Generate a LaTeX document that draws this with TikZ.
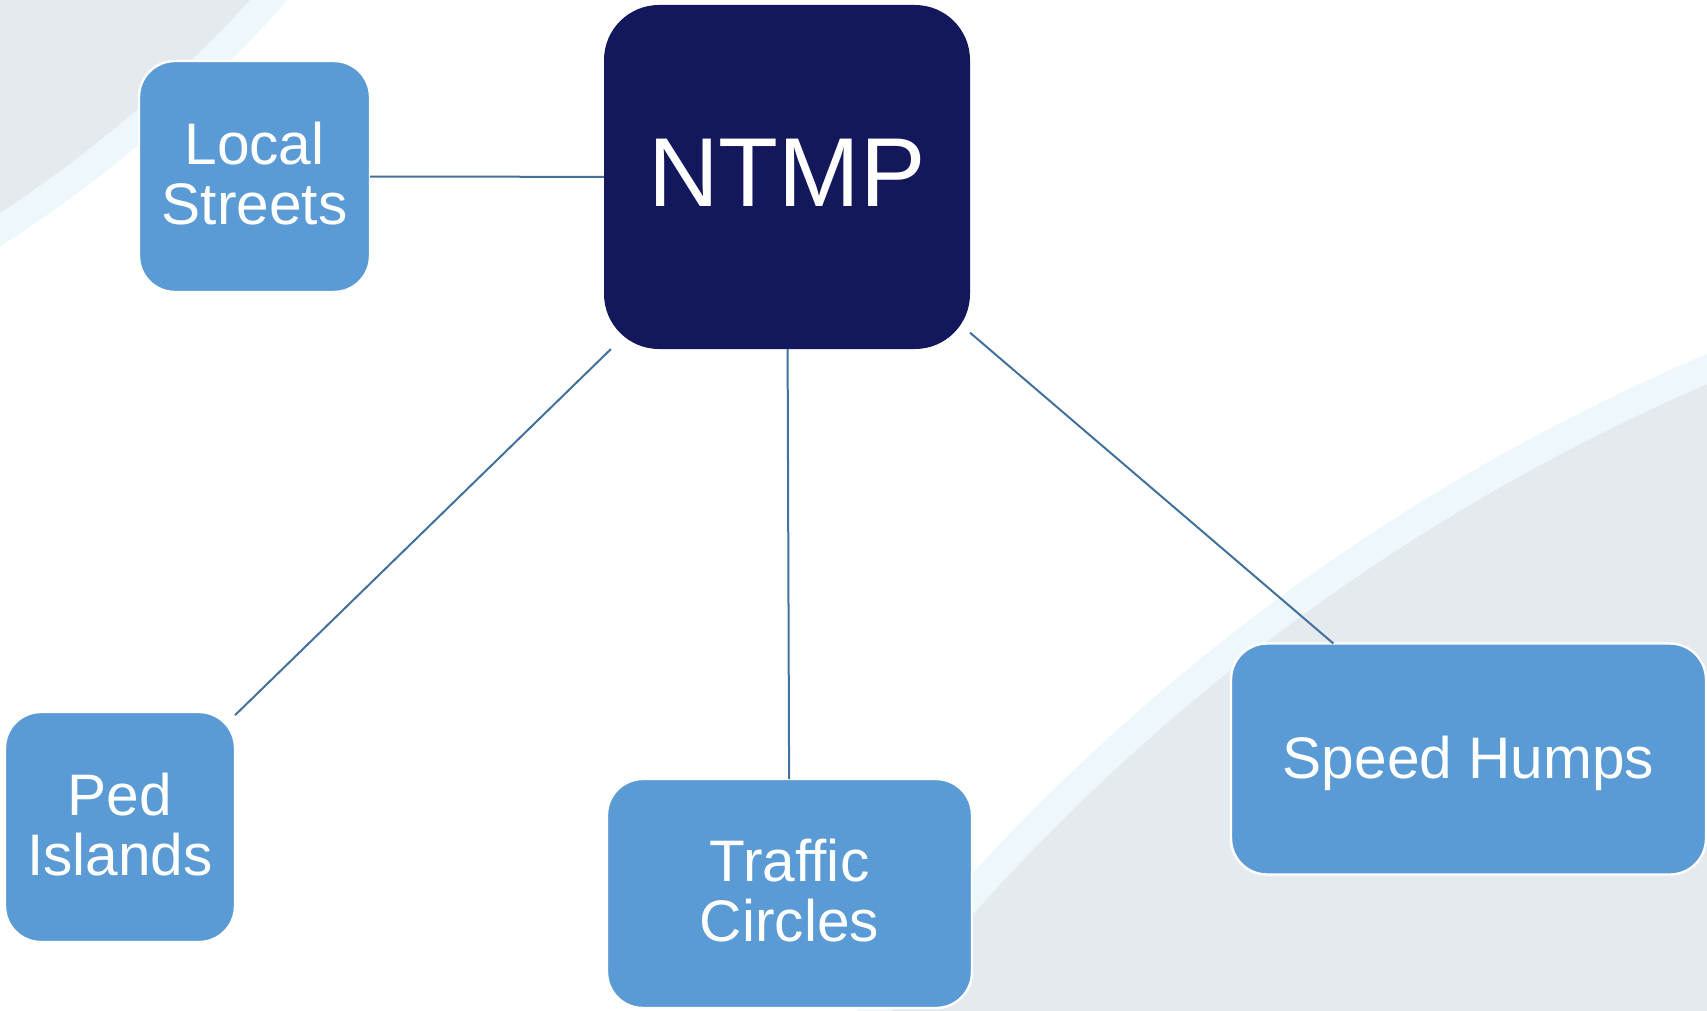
\documentclass[tikz,border=0pt]{standalone}
\usepackage{fontspec}
\setmainfont{Liberation Sans}
\definecolor{navy}{HTML}{13175C}
\definecolor{boxblue}{HTML}{5B9BD5}
\definecolor{linkblue}{HTML}{41719C}
\definecolor{bggray}{HTML}{E4EAEE}
\definecolor{bgband}{HTML}{EEF8FC}
\begin{document}
\begin{tikzpicture}[x=0.5pt, y=-0.5pt,
    hub/.style={rectangle, rounded corners=27.5pt, fill=navy, text=white,
      minimum width=183pt, minimum height=172pt, inner sep=0pt, outer sep=0pt,
      text depth=4pt, font=\fontsize{49}{50}\selectfont},
    tool/.style={rectangle, rounded corners=18pt, fill=boxblue, draw=white,
      line width=1.2pt, text=white, align=center, inner sep=0pt, outer sep=0pt,
      text depth=3pt, font=\fontsize{29.3}{30}\selectfont},
    link/.style={draw=linkblue, line width=1pt}]
  \useasboundingbox (0,0) rectangle (1707,1011);

  % Fundo
  \begin{scope}
    \clip (0,0) rectangle (1707,1011);
    \fill[bgband] (-732,-900) circle (1360);
    \fill[bggray] (-732,-900) circle (1332);
    \fill[bgband] (2532,2302) circle (2115);
    \fill[bggray] (2532,2302) circle (2087);
  \end{scope}

  % Centro
  \node[hub] (ntmp) at (787,177) {NTMP};

  % Medidas
  \node[tool, minimum width=115.5pt, minimum height=115.5pt] (local) at (254.5,176.5) {Local\\Streets};
  \node[tool, minimum width=115pt, minimum height=115pt] (ped) at (120,827) {Ped\\Islands};
  \node[tool, minimum width=182.5pt, minimum height=114.5pt] (traffic) at (789.5,893.5) {Traffic\\Circles};
  \node[tool, minimum width=237.5pt, minimum height=115.5pt, text depth=2pt] (speed) at (1468.5,759) {Speed Humps};

  % Ligacoes
  \draw[link] (ntmp) -- (local);
  \draw[link] (ntmp) -- (ped);
  \draw[link] (ntmp) -- (traffic);
  \draw[link] (ntmp) -- (speed);
\end{tikzpicture}
\end{document}
